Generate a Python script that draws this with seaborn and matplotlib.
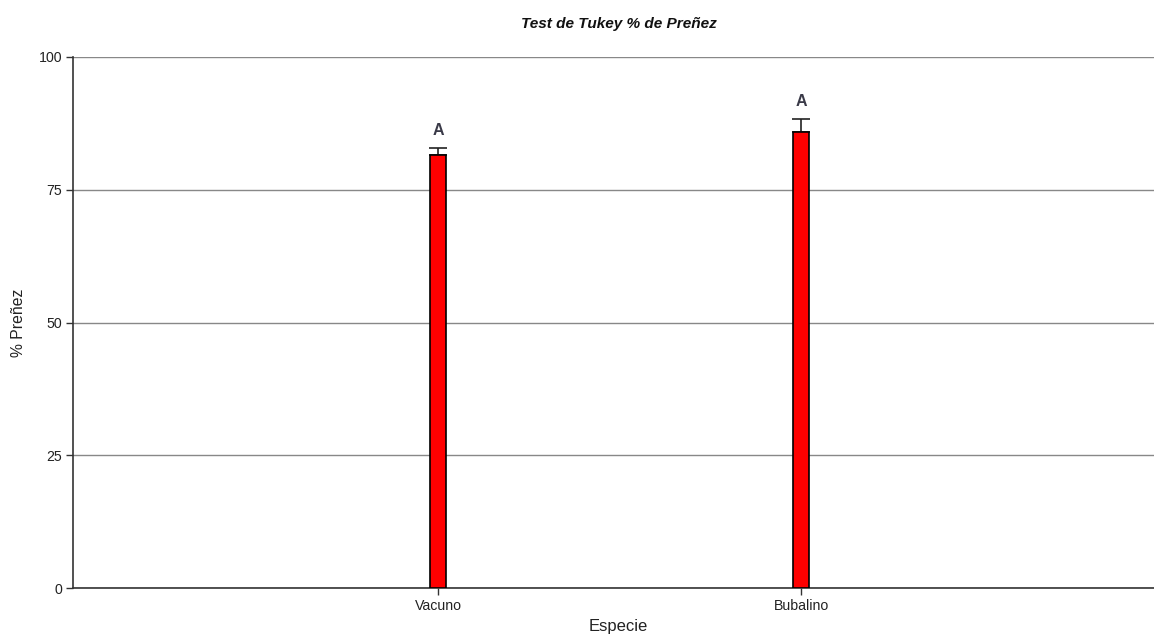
import matplotlib
matplotlib.use("Agg")
import matplotlib.pyplot as plt
import seaborn as sns
import pandas as pd

# Tukey test results: mean pregnancy rate per species with standard error
especies = ["Vacuno", "Bubalino"]
medias = [81.6, 85.9]
errores = [1.3, 2.5]
letras = ["A", "A"]
yticks = [0, 25, 50, 75, 100]

sns.set_style("white")
plt.rcParams["font.family"] = ["Liberation Sans", "DejaVu Sans"]

df = pd.DataFrame({"Especie": especies, "media": medias, "ee": errores})

W, H = 1154, 634
fig = plt.figure(figsize=(W / 100, H / 100), dpi=100)
ax = fig.add_axes([73 / W, 46 / H, 1090 / W, 531 / H])

sns.barplot(data=df, x="Especie", y="media", color="red", edgecolor="black",
            linewidth=1.2, width=0.045, errorbar=None, saturation=1, ax=ax, zorder=3)

xs = list(range(len(especies)))
ax.errorbar(xs, df["media"], yerr=[[0] * len(xs), df["ee"]], fmt="none",
            ecolor="#222222", elinewidth=1.2, capsize=6.5, capthick=1.2, zorder=2)

for x, m, e, l in zip(xs, df["media"], df["ee"], letras):
    ax.annotate(l, (x, m + e), xytext=(0, 7), textcoords="offset points",
                ha="center", va="bottom", fontsize=11.5, fontweight="bold",
                color="#3a3a48")

ax.set_xlim(-1.0055, 1.997)
ax.set_ylim(0, 100)
ax.set_yticks(yticks)
ax.set_yticklabels([str(t) for t in yticks])
ax.yaxis.grid(True, color="#888888", linewidth=1)
ax.xaxis.grid(False)
ax.set_axisbelow(True)

for s in ["top", "right"]:
    ax.spines[s].set_visible(False)
for s in ["left", "bottom"]:
    ax.spines[s].set_color("#333333")
    ax.spines[s].set_linewidth(1.2)

ax.tick_params(axis="both", which="both", direction="out", length=5, width=1,
               color="#333333", labelsize=10.2, labelcolor="#222222",
               left=True, bottom=True, pad=3)

ax.set_xlabel("Especie", fontsize=12, color="#222222", labelpad=4)
ax.set_ylabel("% Preñez", fontsize=11.3, color="#222222", labelpad=9)
ax.set_title("Test de Tukey % de Preñez", fontsize=11.1, fontweight="bold",
             fontstyle="italic", color="#111111", pad=21, x=(619 - 73) / 1090)

fig.savefig("out.png", dpi=100)
